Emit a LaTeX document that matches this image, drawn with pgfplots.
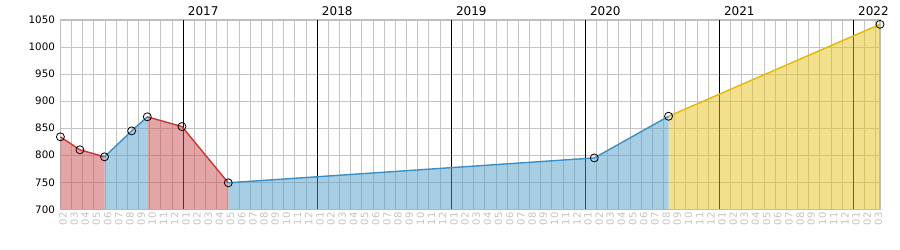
\documentclass[border=0pt]{standalone}
\usepackage{fontspec}
\setmainfont{DejaVu Sans}
\usepackage{pgfplots}
\pgfplotsset{compat=1.18}
\definecolor{gridc}{RGB}{196,196,196}
\definecolor{axisc}{RGB}{190,190,190}
\definecolor{tickc}{RGB}{195,195,195}
\definecolor{redl}{RGB}{200,55,55}
\definecolor{redf}{RGB}{200,76,76}
\definecolor{bluel}{RGB}{58,143,198}
\definecolor{bluef}{RGB}{82,157,202}
\definecolor{yell}{RGB}{230,184,0}
\definecolor{yelf}{RGB}{229,193,26}
\begin{document}
\begin{tikzpicture}[x=1pt,y=1pt]
\path[use as bounding box] (-60.4,-40) rectangle (839.6,209.3);
\begin{axis}[
  at={(0,0)}, anchor=south west,
  scale only axis, width=819.6pt, height=189.3pt,
  xmin=0, xmax=73.38, ymin=700, ymax=1050,
  clip=false,
  xtick={0,...,73},
  xticklabels={02,03,04,05,06,07,08,09,10,11,12,
    01,02,03,04,05,06,07,08,09,10,11,12,
    01,02,03,04,05,06,07,08,09,10,11,12,
    01,02,03,04,05,06,07,08,09,10,11,12,
    01,02,03,04,05,06,07,08,09,10,11,12,
    01,02,03,04,05,06,07,08,09,10,11,12,
    01,02,03},
  ytick={700,750,...,1050},
  grid=major,
  major grid style={draw=gridc, line width=1pt},
  major tick length=0pt,
  tick style={draw=none},
  axis line style={draw=axisc, line width=1.3pt},
  extra x ticks={11,23,35,47,59,71},
  extra x tick labels={},
  extra x tick style={grid=major, major grid style={draw=black, line width=1pt}},
  /pgf/number format/assume math mode=true,
  /pgf/number format/1000 sep={},
  xticklabel style={xshift=2.6pt, rotate=90, anchor=east, font=\fontsize{10}{10}\selectfont, text=tickc, inner sep=3pt},
  yticklabel style={font=\fontsize{10.3}{10}\selectfont, text=black, xshift=-2pt},
]
% fills
\addplot[draw=none, fill=redf, fill opacity=0.5] coordinates {(0,834) (1.75,810) (3.95,797)} \closedcycle;
\addplot[draw=none, fill=bluef, fill opacity=0.5] coordinates {(3.95,797) (6.38,845) (7.78,871)} \closedcycle;
\addplot[draw=none, fill=redf, fill opacity=0.5] coordinates {(7.78,871) (10.88,853) (15.03,749)} \closedcycle;
\addplot[draw=none, fill=bluef, fill opacity=0.5] coordinates {(15.03,749) (47.8,795) (54.45,872)} \closedcycle;
\addplot[draw=none, fill=yelf, fill opacity=0.5] coordinates {(54.45,872) (73.38,1042)} \closedcycle;
% lines
\addplot[redl, line width=1.4pt] coordinates {(0,834) (1.75,810) (3.95,797)};
\addplot[bluel, line width=1.4pt] coordinates {(3.95,797) (6.38,845) (7.78,871)};
\addplot[redl, line width=1.4pt] coordinates {(7.78,871) (10.88,853) (15.03,749)};
\addplot[bluel, line width=1.4pt] coordinates {(15.03,749) (47.8,795) (54.45,872)};
\addplot[yell, line width=1.4pt] coordinates {(54.45,872) (73.38,1042)};
% markers
\addplot[only marks, mark=o, mark size=4pt, black, line width=0.8pt] coordinates {
  (0,834) (1.75,810) (3.95,797) (6.38,845) (7.78,871) (10.88,853)
  (15.03,749) (47.8,795) (54.45,872) (73.38,1042)};
% year labels
\foreach \xx/\yy in {11/2017,23/2018,35/2019,47/2020,59/2021,71/2022}{
  \edef\tmp{\noexpand\node[anchor=south west, inner sep=0pt, font=\noexpand\fontsize{12}{12}\noexpand\selectfont, xshift=4.5pt, yshift=4pt] at (axis cs:\xx,1050) {\yy};}
  \tmp
}
\end{axis}
\end{tikzpicture}
\end{document}
